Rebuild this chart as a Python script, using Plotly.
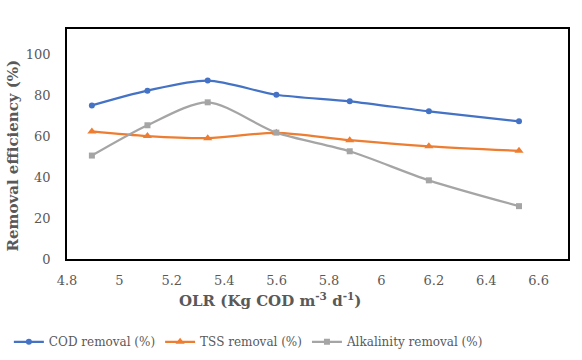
import plotly.graph_objects as go

olr = [4.895, 5.107, 5.337, 5.599, 5.879, 6.181, 6.525]
cod_removal = [75.0, 82.2, 87.1, 80.2, 77.0, 72.1, 67.2]
tss_removal = [62.3, 60.0, 59.0, 61.6, 58.0, 55.0, 52.8]
alk_removal = [50.5, 65.3, 76.5, 61.7, 52.6, 38.4, 25.8]
x_ticks = [4.8, 5.0, 5.2, 5.4, 5.6, 5.8, 6.0, 6.2, 6.4, 6.6]
x_tick_labels = ["4.8", "5", "5.2", "5.4", "5.6", "5.8", "6", "6.2", "6.4", "6.6"]
y_ticks = [0, 20, 40, 60, 80, 100]

SERIF = "DejaVu Serif"
fig = go.Figure()
series = [
    ("COD removal (%)", cod_removal, "#4472C4", "circle", 6),
    ("TSS removal (%)", tss_removal, "#ED7D31", "triangle-up", 8),
    ("Alkalinity removal (%)", alk_removal, "#A5A5A5", "square", 6),
]
for name, vals, col, sym, sz in series:
    fig.add_trace(go.Scatter(
        x=olr, y=vals, name=name, mode="lines+markers",
        line=dict(color=col, width=2.2, shape="spline", smoothing=0.8),
        marker=dict(color=col, symbol=sym, size=sz),
    ))

fig.update_layout(
    width=582, height=360,
    margin=dict(l=67, r=14, t=29, b=101, autoexpand=False),
    paper_bgcolor="white", plot_bgcolor="white",
    font=dict(family=SERIF, size=13, color="#595959"),
    showlegend=True,
    legend=dict(orientation="h", x=0.363, xanchor="center", y=-0.36, yanchor="middle",
                font=dict(family=SERIF, size=12, color="#595959"),
                itemwidth=30, tracegroupgap=0),
    xaxis=dict(range=[4.8, 6.712], tickmode="array", tickvals=x_ticks, ticktext=x_tick_labels,
               showgrid=False, zeroline=False, showline=True, linecolor="black", linewidth=1.5,
               mirror=True, ticks="outside", ticklen=0, ticklabelstandoff=9,
               tickfont=dict(family=SERIF, size=13, color="#595959")),
    yaxis=dict(range=[0, 112.3], tickmode="array", tickvals=y_ticks,
               showgrid=False, zeroline=False, showline=True, linecolor="black", linewidth=1.5,
               mirror=True, ticks="outside", ticklen=0, ticklabelstandoff=12,
               tickfont=dict(family=SERIF, size=13, color="#595959")),
    annotations=[
        dict(text="<b>OLR (Kg COD m<sup>-3</sup> d<sup>-1</sup>)</b>", xref="paper", yref="paper",
             x=0.405, y=-0.18, xanchor="center", yanchor="middle", showarrow=False,
             font=dict(family=SERIF, size=15, color="#595959")),
        dict(text="<b>Removal efficiency (%)</b>", xref="paper", yref="paper",
             x=-0.108, y=0.45, xanchor="center", yanchor="middle", showarrow=False, textangle=-90,
             font=dict(family=SERIF, size=15, color="#595959")),
    ],
)
fig.write_html("out.html", post_script="document.body.style.margin='0';",
               config={"displayModeBar": False})
